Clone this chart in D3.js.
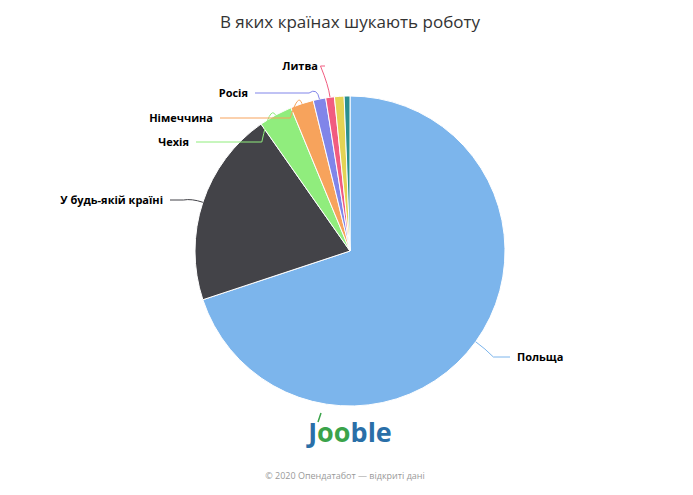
<!DOCTYPE html>
<html><head><meta charset="utf-8">
<script src="https://d3js.org/d3.v7.min.js"></script>
<style>body{margin:0;background:#fff}text{font-family:"Open Sans","DejaVu Sans",sans-serif}</style>
</head><body><svg id="c" width="693" height="495"></svg>
<script>
const categories = ["Польща","У будь-якій країні","Чехія","Німеччина","Росія","Литва","Інше","Інше 2"];
const values = [69.7, 20.3, 3.5, 2.4, 1.3, 0.9, 1.0, 0.6];
const showLabel = [true,true,true,true,true,true,false,false];
const colors = ["#7cb5ec","#434348","#90ed7d","#f7a35c","#8085e9","#f15c80","#e4d354","#2b908f"];
// connector end points (layout)
const labelPos = [[510,357],[170,200],[196,142],[220,118],[255,93],[325,66],null,null];

const svg = d3.select("#c");
svg.append("text").attr("x",350).attr("y",28).attr("text-anchor","middle")
  .attr("font-size",17).attr("fill","#333").text("В яких країнах шукають роботу");
const cx=350, cy=251, r=155;
const pie = d3.pie().sort(null).value(d=>d)(values);
const arc = d3.arc().innerRadius(0).outerRadius(r);
const g = svg.append("g").attr("transform",`translate(${cx},${cy})`);
g.selectAll("path").data(pie).join("path").attr("d",arc)
  .attr("fill",(d,i)=>colors[i]).attr("stroke","#fff").attr("stroke-width",1);
pie.forEach((d,i)=>{
  if(!showLabel[i]) return;
  const a=(d.startAngle+d.endAngle)/2;
  const p0=[cx+Math.sin(a)*r, cy-Math.cos(a)*r];
  const p1=[cx+Math.sin(a)*(r+12), cy-Math.cos(a)*(r+12)];
  const lp=labelPos[i];
  const right = lp[0]>cx;
  svg.append("path").attr("d",`M${p0[0]},${p0[1]} Q${p1[0]},${p1[1]} ${p1[0]+(right?8:-8)},${lp[1]} L${lp[0]},${lp[1]}`)
    .attr("fill","none").attr("stroke",colors[i]).attr("stroke-width",1);
  svg.append("text").attr("x",lp[0]+(right?7:-7)).attr("y",lp[1]+4)
    .attr("text-anchor",right?"start":"end").attr("font-size",11).attr("font-weight","bold")
    .attr("fill","#000").text(categories[i]);
});
const logo=svg.append("text").attr("x",350).attr("y",442).attr("text-anchor","middle")
  .attr("font-family","'Liberation Serif','DejaVu Serif',serif").attr("font-size",27).attr("font-weight","bold");
logo.append("tspan").attr("fill","#2a6fa8").text("J");
logo.append("tspan").attr("fill","#3aa34a").text("oo");
logo.append("tspan").attr("fill","#2a6fa8").text("ble");
svg.append("path").attr("d","M318,422 L321,413").attr("stroke","#3aa34a").attr("stroke-width",1.5);
svg.append("text").attr("x",345).attr("y",479).attr("text-anchor","middle")
  .attr("font-size",9).attr("fill","#999").text("© 2020 Опендатабот — відкриті дані");
</script></body></html>
